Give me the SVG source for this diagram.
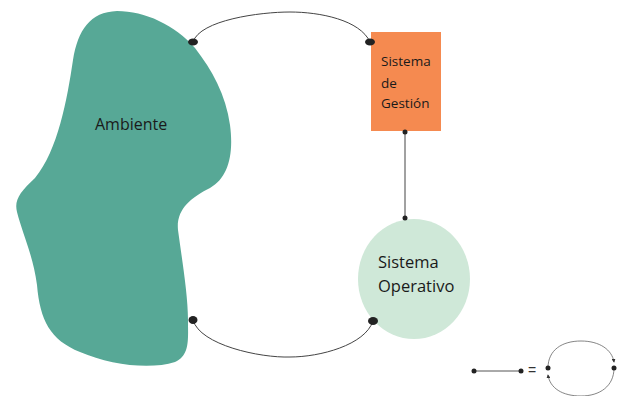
<svg xmlns="http://www.w3.org/2000/svg" width="620" height="396" viewBox="0 0 620 396">
<style>
.lbl{font-family:"Open Sans","Liberation Sans",sans-serif;fill:#1a1a1a}
.con{fill:none;stroke:#444;stroke-width:1}
.dot{fill:#222}
</style>
<defs>
<marker id="ah" viewBox="0 0 10 10" refX="8" refY="5" markerWidth="5" markerHeight="5" orient="auto"><path d="M0,0 L10,5 L0,10 z" fill="#333"/></marker>
</defs>
<rect width="620" height="396" fill="#fff"/>
<g id="ambiente">
<path d="M117,11 C90,12 78,30 73,60 C67,100 58,150 35,178 C20,192 14,200 17,212 C22,232 33,255 37,285 C40,320 50,340 80,352 C110,365 150,370 175,362 C190,355 188,340 188,320 C188,295 182,260 178,230 C176,210 190,198 210,188 C228,178 234,155 230,125 C226,95 212,70 195,48 C175,25 145,11 117,11 Z" fill="#57A896"/>
<text class="lbl" x="95" y="130" font-size="16">Ambiente</text>
</g>
<g id="sistema-gestion">
<rect x="371" y="32" width="70" height="99" fill="#F58A50"/>
<text class="lbl" x="381" y="66" font-size="13.5">Sistema</text>
<text class="lbl" x="381" y="88" font-size="13.5">de</text>
<text class="lbl" x="381" y="108" font-size="13.5">Gestión</text>
</g>
<g id="sistema-operativo">
<ellipse cx="414" cy="279" rx="56" ry="60" fill="#CFE8D8"/>
<text class="lbl" x="378" y="268" font-size="16.5">Sistema</text>
<text class="lbl" x="378" y="292" font-size="16.5">Operativo</text>
</g>
<g id="connectors">
<path class="con" d="M193,42 C200,20 260,12 290,12 C320,12 360,20 370,42"/>
<path class="con" d="M193,320 C200,345 260,358 290,357 C320,357 365,345 373,321"/>
<line class="con" x1="405" y1="132" x2="405" y2="218"/>
<ellipse class="dot" cx="193" cy="42" rx="5" ry="3.5"/>
<ellipse class="dot" cx="370" cy="42" rx="5" ry="3.5"/>
<ellipse class="dot" cx="193" cy="320" rx="4.5" ry="4"/>
<ellipse class="dot" cx="373" cy="321" rx="5" ry="4"/>
<circle class="dot" cx="405" cy="132" r="2.5"/>
<circle class="dot" cx="405" cy="218" r="2.5"/>
</g>
<g id="legend">
<line x1="474" y1="371" x2="522" y2="371" stroke="#555" stroke-width="1"/>
<circle class="dot" cx="474" cy="371" r="2.5"/>
<circle class="dot" cx="521" cy="371" r="2.5"/>
<text x="528" y="375" font-family="Liberation Sans,sans-serif" font-size="14" fill="#333">=</text>
<path d="M548,368 C548,350 562,341 581,341 C600,341 612,350 614,362" fill="none" stroke="#666" stroke-width="0.8" marker-end="url(#ah)"/>
<path d="M614,368 C614,386 600,396 581,396 C562,396 550,388 548,375" fill="none" stroke="#666" stroke-width="0.8" marker-end="url(#ah)"/>
<circle class="dot" cx="548" cy="368" r="2.5"/>
<circle class="dot" cx="614" cy="368" r="2.5"/>
</g>
</svg>
